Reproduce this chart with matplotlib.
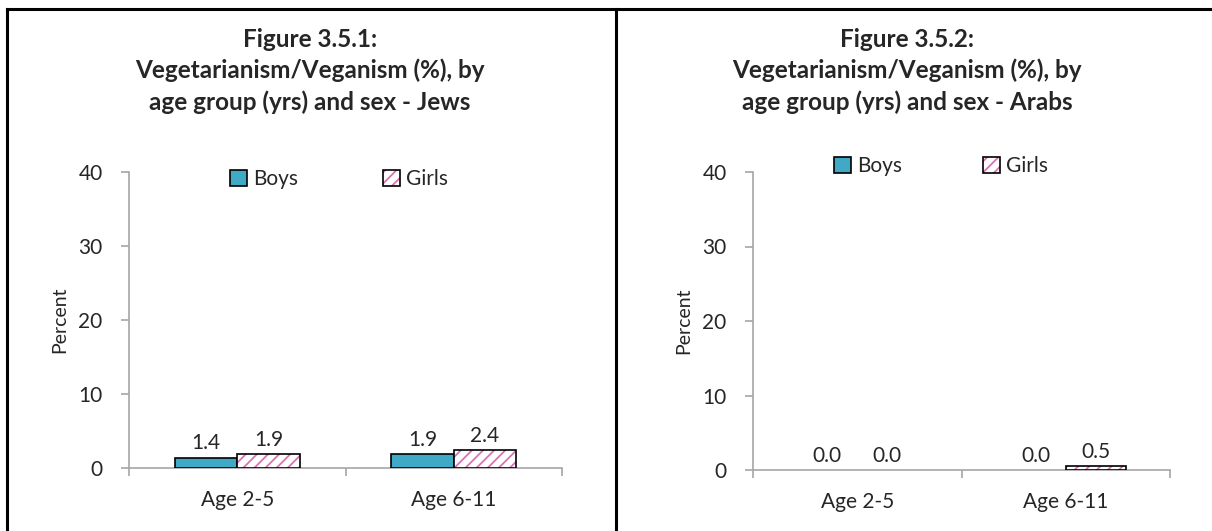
import matplotlib
matplotlib.use("Agg")
import matplotlib.pyplot as plt
from matplotlib.patches import Patch
from matplotlib.lines import Line2D

plt.rcParams['font.family'] = ['Lato', 'DejaVu Sans']
plt.rcParams['hatch.linewidth'] = 1.3

categories = ['Age 2-5', 'Age 6-11']
jews_boys = [1.4, 1.9]
jews_girls = [1.9, 2.4]
arabs_boys = [0.0, 0.0]
arabs_girls = [0.0, 0.5]
titles = ['Figure 3.5.1:\nVegetarianism/Veganism (%), by\nage group (yrs) and sex - Jews',
          'Figure 3.5.2:\nVegetarianism/Veganism (%), by\nage group (yrs) and sex - Arabs']

BOYS = '#40A9C5'
PINK = '#D873B5'
GRID = '#A6A6A6'
TXT = '#262626'
FS = 15

W, H = 1212, 531
fig = plt.figure(figsize=(W / 100, H / 100), dpi=100)


def px_axes(x0, x1, ytop, ybot):
    return fig.add_axes([x0 / W, 1 - ybot / H, (x1 - x0) / W, (ybot - ytop) / H])


def draw(ax, boys, girls, ylab_x):
    bw = 0.288
    x = range(len(categories))
    xb = [i - bw / 2 for i in x]
    xg = [i + bw / 2 for i in x]
    lwb = [1.2 if v > 0 else 0 for v in boys]
    lwg = [1.2 if v > 0 else 0 for v in girls]
    ax.bar(xb, boys, bw, color=BOYS, edgecolor='black', linewidth=lwb, zorder=3)
    ax.bar(xg, girls, bw, color='white', edgecolor=PINK, hatch='///', linewidth=0, zorder=3)
    ax.bar(xg, girls, bw, color='none', edgecolor='black', linewidth=lwg, zorder=4)
    for xs, vals in ((xb, boys), (xg, girls)):
        for xi, v in zip(xs, vals):
            ax.annotate(f'{v:.1f}', (xi, v), xytext=(0, 3), textcoords='offset points',
                        ha='center', va='bottom', fontsize=FS, color=TXT)
    ax.set_xlim(-0.5, len(categories) - 0.5)
    ax.set_ylim(0, 40)
    ax.set_yticks([0, 10, 20, 30, 40])
    ax.set_xticks([-0.5, 0.5, 1.5])
    ax.set_xticklabels([])
    ax.set_xticks(list(x), minor=True)
    ax.set_xticklabels(categories, minor=True)
    ax.tick_params(axis='x', which='major', length=6, color=GRID, width=1.2, direction='out')
    ax.tick_params(axis='x', which='minor', length=0, pad=16, labelsize=FS, labelcolor=TXT)
    ax.tick_params(axis='y', length=6, color=GRID, width=1.2, labelsize=FS, labelcolor=TXT, pad=13)
    for s in ('top', 'right'):
        ax.spines[s].set_visible(False)
    for s in ('left', 'bottom'):
        ax.spines[s].set_color(GRID)
        ax.spines[s].set_linewidth(1.2)
    ax.set_ylabel('Percent', fontsize=14, color=TXT)
    ax.yaxis.set_label_coords(ylab_x, 0.5)


ax1 = px_axes(129, 562, 172, 468)
draw(ax1, jews_boys, jews_girls, (68 - 129) / 433)
ax2 = px_axes(753, 1170, 172, 470)
draw(ax2, arabs_boys, arabs_girls, (692 - 753) / 417)

h_boys = Patch(facecolor=BOYS, edgecolor='black', linewidth=1.2)
h_girls = (Patch(facecolor='white', edgecolor=PINK, hatch='///', linewidth=0),
           Patch(facecolor='none', edgecolor='black', linewidth=1.2))

for cx, cy, cs in ((339, 179, 4.1), (941, 166, 3.9)):
    fig.legend([h_boys, h_girls], ['Boys', 'Girls'], loc='center',
               bbox_to_anchor=(cx / W, 1 - cy / H), ncol=2, frameon=False,
               fontsize=FS, handlelength=0.8, handleheight=0.8, handletextpad=0.3,
               columnspacing=cs, labelcolor=TXT)

for cx, t in ((310, titles[0]), (907, titles[1])):
    fig.text(cx / W, 1 - 28 / H, t, ha='center', va='top', fontsize=17.5,
             fontweight='bold', color=TXT, linespacing=1.4)

# outer frame
fig.add_artist(Line2D([7 / W, 7 / W], [0, 1 - 9 / H], color='black', lw=2.2))
fig.add_artist(Line2D([616 / W, 616 / W], [0, 1 - 9 / H], color='black', lw=2.2))
fig.add_artist(Line2D([7 / W, 1], [1 - 9 / H, 1 - 9 / H], color='black', lw=2.2))

fig.savefig('out.png', dpi=100)
